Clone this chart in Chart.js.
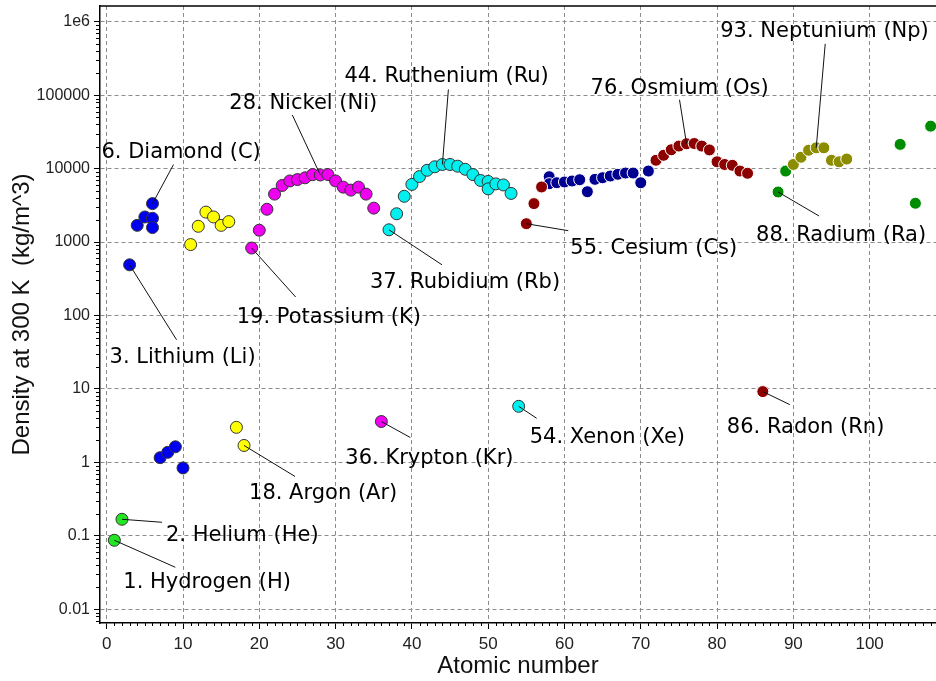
<!DOCTYPE html>
<html>
<head>
<meta charset="utf-8">
<title>Density of the elements</title>
<script src="https://cdn.jsdelivr.net/npm/chart.js@4.4.0/dist/chart.umd.min.js"></script>
<style>
    html, body { margin: 0; padding: 0; background: #ffffff; }
</style>
</head>
<body>
<canvas id="densityChart" width="936" height="681"></canvas>
<script>
// density at 300 K (kg/m^3), grouped by colour
var period1Z = [1, 2];
var period1Density = [0.087, 0.168];

var period2Z = [3, 4, 5, 6, 6, 6, 7, 8, 9, 10];
var period2Density = [490, 1690, 2200, 3340, 2110, 1575, 1.16, 1.37, 1.63, 0.84];

var period3Z = [11, 12, 13, 14, 15, 16, 17, 18];
var period3Density = [925, 1640, 2560, 2200, 1690, 1900, 3.0, 1.7];

var period4Z = [19, 20, 21, 22, 23, 24, 25, 26, 27, 28, 29, 30, 31, 32, 33, 34, 35, 36];
var period4Density = [830, 1450, 2800, 4500, 5900, 6800, 7100, 7500, 8300, 8200, 8300, 6800, 5600, 5100, 5600, 4500, 2900, 3.6];

var period5Z = [37, 38, 39, 40, 41, 42, 43, 44, 45, 46, 47, 48, 49, 50, 50, 51, 52, 53, 54];
var period5Density = [1470, 2430, 4200, 6100, 7800, 9500, 10600, 11400, 11400, 10800, 9800, 8300, 6900, 6700, 5300, 6200, 6000, 4600, 5.8];

var period6Z = [55, 56, 57, 72, 73, 74, 75, 76, 77, 78, 79, 80, 81, 82, 83, 84, 86];
var period6Density = [1780, 3340, 5630, 13000, 15200, 18100, 20300, 21800, 22000, 20300, 18000, 12400, 11400, 11100, 9270, 8660, 9.2];

var lanthanideZ = [58, 58, 59, 60, 61, 62, 63, 64, 65, 66, 67, 68, 69, 70, 71];
var lanthanideDensity = [7770, 6240, 6430, 6580, 6790, 7070, 4850, 7150, 7520, 7930, 8370, 8710, 8710, 6430, 9270];

var actinideZ = [90, 91, 92, 93, 94, 95, 96, 97];
var actinideDensity = [11400, 14300, 17800, 19200, 19200, 13000, 12400, 13500];

var period7Z = [88, 89, 104, 106, 108];
var period7Density = [4810, 9270, 21400, 3380, 37900];

// axis ticks
var xTickValues = [0, 10, 20, 30, 40, 50, 60, 70, 80, 90, 100];
var yTickValues = [0.01, 0.1, 1, 10, 100, 1000, 10000, 100000, 1000000];
var yTickLabels = ["0.01", "0.1", "1", "10", "100", "1000", "10000", "100000", "1e6"];

// series: key, x array, y array, fill, edge
var groups = [
    { key: "period1", z: period1Z, d: period1Density, fill: "#22e622", edge: "#333333", r: 6 },
    { key: "period2", z: period2Z, d: period2Density, fill: "#0000f0", edge: "#333333", r: 6 },
    { key: "period3", z: period3Z, d: period3Density, fill: "#ffff00", edge: "#333333", r: 6 },
    { key: "period4", z: period4Z, d: period4Density, fill: "#f000f0", edge: "#333333", r: 6 },
    { key: "period5", z: period5Z, d: period5Density, fill: "#00f0f0", edge: "#333333", r: 6 },
    { key: "period6", z: period6Z, d: period6Density, fill: "#8c0000", edge: "#ffffff", r: 6 },
    { key: "lanthanide", z: lanthanideZ, d: lanthanideDensity, fill: "#000090", edge: "#ffffff", r: 6 },
    { key: "actinide", z: actinideZ, d: actinideDensity, fill: "#8c8c00", edge: "#ffffff", r: 6 },
    { key: "period7", z: period7Z, d: period7Density, fill: "#008c00", edge: "#ffffff", r: 6 }
];

// callouts: series, atomic number, text, leader end (px from point), text start (px from point)
var callouts = [
    ["period1", 1, "1. Hydrogen (H)", [61, 27], [9, 48]],
    ["period1", 2, "2. Helium (He)", [40, 3], [44, 22]],
    ["period2", 3, "3. Lithium (Li)", [47, 75], [-20, 98]],
    ["period2", 6, "6. Diamond (C)", [21, -39], [-51, -46]],
    ["period3", 18, "18. Argon (Ar)", [51, 31], [5, 54]],
    ["period4", 19, "19. Potassium (K)", [44, 49], [-15, 75]],
    ["period4", 28, "28. Nickel (Ni)", [-28, -60], [-91, -66]],
    ["period4", 36, "36. Krypton (Kr)", [29, 16], [-36, 42]],
    ["period5", 37, "37. Rubidium (Rb)", [53, 35], [-19, 58]],
    ["period5", 44, "44. Ruthenium (Ru)", [6, -75], [-98, -82]],
    ["period5", 54, "54. Xenon (Xe)", [18, 12], [11, 37]],
    ["period6", 55, "55. Cesium (Cs)", [42, 7], [44, 30]],
    ["period6", 76, "76. Osmium (Os)", [-7, -44], [-96, -50]],
    ["period6", 86, "86. Radon (Rn)", [27, 13], [-36, 41]],
    ["period7", 88, "88. Radium (Ra)", [41, 24], [-22, 49]],
    ["actinide", 93, "93. Neptunium (Np)", [9, -104], [-96, -111]]
];

var datasets = groups.map(function (g) {
    return {
        label: g.key,
        data: g.z.map(function (z, i) { return { x: z, y: g.d[i] }; }),
        backgroundColor: g.fill,
        borderColor: g.edge,
        borderWidth: 1,
        pointRadius: g.r,
        pointHoverRadius: g.r
    };
});

var extrasPlugin = {
    id: "extras",
    beforeDatasetsDraw: function (chart) {
        var ctx = chart.ctx, area = chart.chartArea;
        var xs = chart.scales.x, ys = chart.scales.y;
        ctx.save();
        ctx.strokeStyle = "#000000";
        ctx.lineWidth = 1;
        ctx.beginPath();
        // minor log ticks
        for (var e = -3; e <= 6; e++) {
            for (var k = 2; k <= 9; k++) {
                var v = k * Math.pow(10, e);
                if (v < ys.min || v > ys.max) continue;
                var py = Math.round(ys.getPixelForValue(v)) + 0.5;
                ctx.moveTo(area.left - 4, py);
                ctx.lineTo(area.left, py);
            }
        }
        // minor x ticks
        for (var z = Math.ceil(xs.min); z <= xs.max; z++) {
            if (z % 10 === 0) continue;
            var px = Math.round(xs.getPixelForValue(z)) + 0.5;
            ctx.moveTo(px, area.bottom);
            ctx.lineTo(px, area.bottom + 3);
        }
        ctx.stroke();
        // top frame line
        ctx.beginPath();
        ctx.lineWidth = 1.5;
        ctx.moveTo(area.left, area.top);
        ctx.lineTo(area.right, area.top);
        ctx.stroke();
        ctx.restore();
    },
    afterDatasetsDraw: function (chart) {
        var ctx = chart.ctx;
        ctx.save();
        ctx.strokeStyle = "#111111";
        ctx.lineWidth = 1;
        ctx.fillStyle = "#000000";
        ctx.font = '21px "DejaVu Sans"';
        ctx.textAlign = "left";
        ctx.textBaseline = "alphabetic";
        callouts.forEach(function (c) {
            var gi = groups.findIndex(function (g) { return g.key === c[0]; });
            var pi = groups[gi].z.indexOf(c[1]);
            var pt = chart.getDatasetMeta(gi).data[pi];
            ctx.beginPath();
            ctx.moveTo(pt.x, pt.y);
            ctx.lineTo(pt.x + c[3][0], pt.y + c[3][1]);
            ctx.stroke();
            ctx.fillText(c[2], pt.x + c[4][0], pt.y + c[4][1]);
        });
        ctx.restore();
    }
};

var myScatterChart = new Chart(document.getElementById("densityChart"), {
    type: "scatter",
    data: { datasets: datasets },
    plugins: [extrasPlugin],
    options: {
        responsive: false,
        animation: false,
        events: [],
        layout: { autoPadding: false, padding: { top: 6, right: 0, left: 0, bottom: 0 } },
        plugins: {
            legend: { display: false },
            tooltip: { enabled: false }
        },
        scales: {
            x: {
                type: "linear",
                min: -0.88,
                max: 108.7,
                afterBuildTicks: function (axis) {
                    axis.ticks = xTickValues.map(function (v) { return { value: v }; });
                },
                afterFit: function (axis) {
                    axis.height = 58;
                    axis.paddingLeft = 0;
                    axis.paddingRight = 0;
                },
                ticks: {
                    color: "#222222",
                    padding: 5,
                    maxRotation: 0,
                    font: { family: "'Liberation Sans Narrow', 'Liberation Sans'", size: 17 }
                },
                grid: {
                    color: "#8c8c8c",
                    lineWidth: 1,
                    tickLength: 6,
                    tickColor: "#000000",
                    tickBorderDash: []
                },
                border: { color: "#000000", width: 1.5, dash: [4, 3] },
                title: {
                    display: true,
                    text: "Atomic number",
                    color: "#111111",
                    font: { family: "'Liberation Sans'", size: 24 },
                    padding: { top: 4.6, bottom: 0 }
                }
            },
            y: {
                type: "logarithmic",
                min: 0.0065,
                max: 1640000,
                afterBuildTicks: function (axis) {
                    axis.ticks = yTickValues.map(function (v) { return { value: v }; });
                },
                afterFit: function (axis) {
                    axis.width = 100;
                    axis.paddingTop = 0;
                    axis.paddingBottom = 0;
                },
                ticks: {
                    color: "#222222",
                    padding: 4,
                    font: { family: "'Liberation Sans'", size: 16 },
                    callback: function (value) {
                        var i = yTickValues.indexOf(value);
                        return i >= 0 ? yTickLabels[i] : "";
                    }
                },
                grid: {
                    color: "#8c8c8c",
                    lineWidth: 1,
                    tickLength: 6,
                    tickColor: "#000000",
                    tickBorderDash: []
                },
                border: { color: "#000000", width: 1.5, dash: [4, 3] },
                title: {
                    display: true,
                    text: "Density at 300 K  (kg/m^3)",
                    color: "#111111",
                    font: { family: "'Liberation Sans'", size: 24 },
                    padding: { top: 8, bottom: 0 }
                }
            }
        }
    }
});
</script>
</body>
</html>
